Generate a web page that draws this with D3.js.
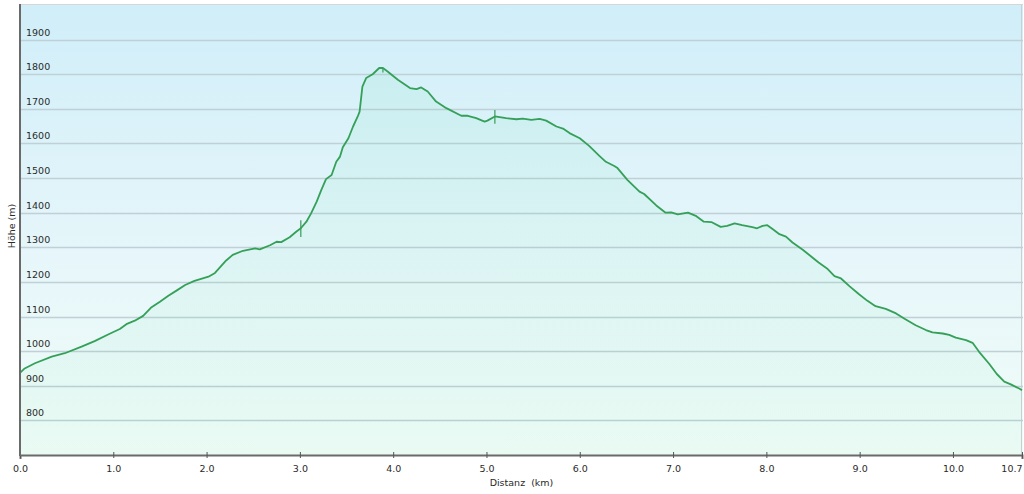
<!DOCTYPE html>
<html><head><meta charset="utf-8">
<script src="https://cdn.jsdelivr.net/npm/d3@7/dist/d3.min.js"></script>
<style>html,body{margin:0;padding:0;background:#fff;}svg{display:block;}</style>
</head><body>
<svg id="c" width="1024" height="494"></svg>
<script>
// Distance (km) along the route
const distanceKm = [0.00,0.05,0.16,0.34,0.48,0.66,0.80,0.95,1.07,1.14,1.23,1.32,1.41,1.50,1.59,1.69,1.77,1.87,2.02,2.09,2.21,2.28,2.39,2.52,2.57,2.68,2.75,2.80,2.89,2.96,3.01,3.07,3.12,3.18,3.23,3.28,3.34,3.39,3.43,3.46,3.52,3.57,3.62,3.64,3.67,3.71,3.78,3.85,3.89,3.94,4.05,4.18,4.25,4.30,4.37,4.46,4.57,4.73,4.80,4.89,4.98,5.01,5.09,5.21,5.32,5.39,5.48,5.57,5.64,5.75,5.82,5.89,6.00,6.10,6.21,6.28,6.37,6.40,6.51,6.64,6.69,6.82,6.92,6.98,7.05,7.16,7.25,7.33,7.41,7.51,7.58,7.66,7.74,7.85,7.90,7.96,8.01,8.07,8.14,8.21,8.28,8.39,8.46,8.56,8.65,8.73,8.80,8.89,8.99,9.08,9.17,9.28,9.39,9.49,9.60,9.71,9.78,9.89,9.96,10.03,10.14,10.21,10.28,10.39,10.47,10.55,10.62,10.71,10.74];
// Elevation (m)
const elevationM = [937,950,965,984,994,1013,1029,1049,1064,1078,1088,1102,1127,1143,1160,1177,1191,1203,1215,1226,1262,1278,1290,1297,1294,1306,1316,1315,1329,1345,1355,1374,1398,1432,1466,1497,1509,1547,1562,1589,1615,1649,1678,1692,1764,1789,1800,1818,1818,1808,1784,1760,1757,1762,1750,1721,1702,1680,1680,1673,1663,1666,1678,1673,1670,1672,1668,1671,1666,1649,1643,1630,1615,1593,1564,1547,1535,1530,1495,1461,1454,1421,1400,1401,1395,1400,1390,1374,1373,1359,1362,1369,1364,1358,1355,1362,1364,1352,1338,1331,1314,1293,1278,1256,1239,1217,1210,1188,1165,1146,1130,1122,1109,1092,1075,1061,1054,1051,1047,1039,1032,1024,998,963,934,912,904,892,887];
// GPS glitch spikes: [km, top elevation, bottom elevation]
const spikeKm = [3.01, 5.09, 3.89];
const spikeTop = [1378, 1697, 1818];
const spikeBottom = [1330, 1657, 1805];
// Axis ticks
const yTicks = [800,900,1000,1100,1200,1300,1400,1500,1600,1700,1800,1900];
const xTicks = [0,1,2,3,4,5,6,7,8,9,10];
const xEnd = 10.74, xEndLabel = "10.7";
const xTitle = "Distanz  (km)", yTitle = "Höhe (m)";

const svg = d3.select("#c");
const L = 20, R = 1023, T = 5, B = 455;
const x = d3.scaleLinear().domain([0, xEnd]).range([L, R - 1]);
const y = d3.scaleLinear().domain([700, 2000]).range([B, T]);
const FONT = "DejaVu Sans, Verdana, sans-serif";

const defs = svg.append("defs");
const bg = defs.append("linearGradient").attr("id","bg").attr("x1",0).attr("y1",0).attr("x2",0).attr("y2",1);
bg.append("stop").attr("offset","0%").attr("stop-color","#d0eef9");
bg.append("stop").attr("offset","55%").attr("stop-color","#e6f6fa");
bg.append("stop").attr("offset","100%").attr("stop-color","#f0fcf7");
const ag = defs.append("linearGradient").attr("id","ag").attr("gradientUnits","userSpaceOnUse")
  .attr("x1",0).attr("y1",y(1820)).attr("x2",0).attr("y2",B);
ag.append("stop").attr("offset","0%").attr("stop-color","#3fd890").attr("stop-opacity",0.08);
ag.append("stop").attr("offset","100%").attr("stop-color","#3fd890").attr("stop-opacity",0.04);

svg.append("rect").attr("x",L).attr("y",T).attr("width",R-L).attr("height",B-T).attr("fill","url(#bg)");
svg.append("line").attr("x1",L).attr("x2",R).attr("y1",T-0.5).attr("y2",T-0.5).attr("stroke","#d6d6d6").attr("stroke-width",1);
svg.append("line").attr("x1",R-1.5).attr("x2",R-1.5).attr("y1",T).attr("y2",B).attr("stroke","#c8d0d4").attr("stroke-width",1);

// gridlines
svg.append("g").selectAll("line").data(yTicks).join("line")
  .attr("x1",L).attr("x2",R).attr("y1",d=>Math.round(y(d))+0.5).attr("y2",d=>Math.round(y(d))+0.5)
  .attr("stroke","#bfd0d6").attr("stroke-width",1.5);

const data = distanceKm.map((d,i)=>[d, elevationM[i]]);
svg.append("path").datum(data)
  .attr("d", d3.area().x(d=>x(d[0])).y0(B).y1(d=>y(d[1])))
  .attr("fill","url(#ag)");

// y tick labels inside the plot
svg.append("g").selectAll("text").data(yTicks).join("text")
  .attr("x",26).attr("y",d=>y(d)-4)
  .attr("font-family",FONT).attr("font-size",9.5).attr("fill","#2a2a2a")
  .text(d=>d);

// spikes
svg.append("g").selectAll("line").data(spikeKm).join("line")
  .attr("x1",d=>x(d)).attr("x2",d=>x(d))
  .attr("y1",(d,i)=>y(spikeTop[i])).attr("y2",(d,i)=>y(spikeBottom[i]))
  .attr("stroke","#3a9c55").attr("stroke-width",1.2);

svg.append("path").datum(data)
  .attr("d", d3.line().x(d=>x(d[0])).y(d=>y(d[1])))
  .attr("fill","none").attr("stroke","#34a058").attr("stroke-width",1.8).attr("stroke-linejoin","round");

// axes
const xAxis = d3.axisBottom(x).tickValues(xTicks.concat([xEnd]))
  .tickFormat(d => d === xEnd ? xEndLabel : d3.format(".1f")(d)).tickSize(4).tickPadding(6);
const gx = svg.append("g").attr("transform",`translate(0,${B})`).call(xAxis);
gx.select(".domain").attr("stroke","#6a6a6a").attr("stroke-width",2);
gx.selectAll(".tick line").attr("stroke","#555").attr("y1",-3).attr("y2",3);
gx.selectAll(".tick text").attr("font-family",FONT).attr("font-size",9.5).attr("fill","#2a2a2a")
  .attr("text-anchor", d => d === xEnd ? "end" : "middle");

svg.append("line").attr("x1",L).attr("x2",L).attr("y1",T-1).attr("y2",B+1).attr("stroke","#6a6a6a").attr("stroke-width",2);

svg.append("text").attr("x",(L+R)/2).attr("y",486).attr("text-anchor","middle")
  .attr("font-family",FONT).attr("font-size",9.5).attr("fill","#2a2a2a")
  .attr("xml:space","preserve").style("white-space","pre").text(xTitle);
svg.append("text").attr("transform","translate(15,226) rotate(-90)").attr("text-anchor","middle")
  .attr("font-family",FONT).attr("font-size",9.5).attr("fill","#2a2a2a")
  .text(yTitle);
</script>
</body></html>
